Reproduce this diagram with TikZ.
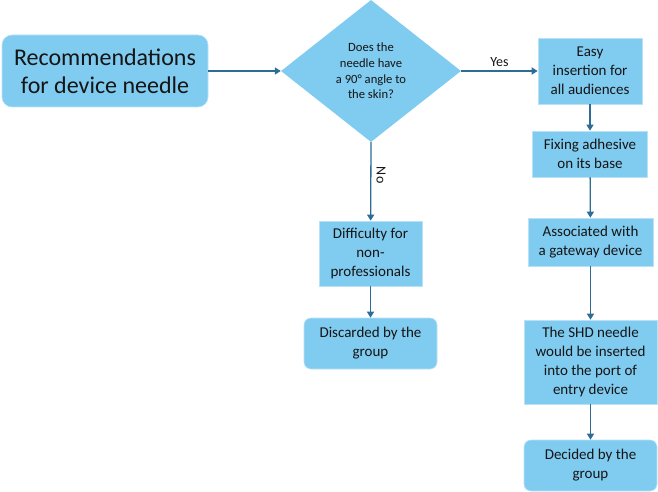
\documentclass[tikz,border=0pt]{standalone}
\usepackage{fontspec}
\setmainfont{Carlito}
\usetikzlibrary{arrows.meta,positioning,shapes.geometric}
\definecolor{boxblue}{HTML}{80CBF0}
\definecolor{linkblue}{HTML}{2D6D94}
\definecolor{inkgray}{HTML}{151515}

\begin{document}
\begin{tikzpicture}[x=1pt,y=-1pt,>={Triangle[length=6pt,width=7pt]},
    every node/.style={text=inkgray,align=center,inner sep=0pt},
    box/.style={fill=boxblue,draw=boxblue!55!white,line width=0.6pt,
        font=\fontsize{15}{19}\selectfont},
    endbox/.style={box,rounded corners=7pt},
    link/.style={->,draw=linkblue,line width=1.3pt}]
    \useasboundingbox (0,0) rectangle (658,492);
    % Start and question
    \node[endbox,rounded corners=10pt,minimum width=206pt,minimum height=72pt,
        font=\fontsize{24}{28}\selectfont] (start) at (105,71)
        {Recommendations\\for device needle};
    \node[diamond,fill=boxblue,minimum width=180pt,minimum height=142pt,
        font=\fontsize{12.6}{15.7}\selectfont] (q) at (371,71)
        {Does the\\needle have\\a 90° angle to\\the skin?};

    % Yes branch
    \node[box,minimum width=104pt,minimum height=66pt] (easy) at (590,71)
        {Easy\\insertion for\\all audiences};
    \node[box,minimum width=115pt,minimum height=46pt] (fix) at (590,154)
        {Fixing adhesive\\on its base};
    \node[box,minimum width=125pt,minimum height=48pt] (gate) at (590.5,242)
        {Associated with\\a gateway device};
    \node[box,minimum width=133pt,minimum height=84pt] (shd) at (590.5,362)
        {The SHD needle\\would be inserted\\into the port of\\entry device};
    \node[endbox,minimum width=133pt,minimum height=51pt] (decided) at (590.5,465.5)
        {Decided by the\\group};

    % No branch
    \node[box,minimum width=103pt,minimum height=65pt] (hard) at (370.5,253.5)
        {Difficulty for\\non-\\professionals};
    \node[endbox,minimum width=133pt,minimum height=51pt] (discard) at (370.5,343.5)
        {Discarded by the\\group};

    % Connectors
    \draw[link] (start) -- (q);
    \draw[link] (q.east) -- node[above=4pt,font=\fontsize{14}{16}\selectfont] {Yes} (easy);
    \draw[link] (easy) -- (fix);
    \draw[link] (fix) -- (gate);
    \draw[link] (gate) -- (shd);
    \draw[link] (shd) -- (decided);
    \draw[link] (q.south) -- node[pos=0.42,rotate=-90,anchor=south,yshift=5pt,
        font=\fontsize{14}{16}\selectfont] {No} (hard);
    \draw[link] (hard) -- (discard);
\end{tikzpicture}
\end{document}
